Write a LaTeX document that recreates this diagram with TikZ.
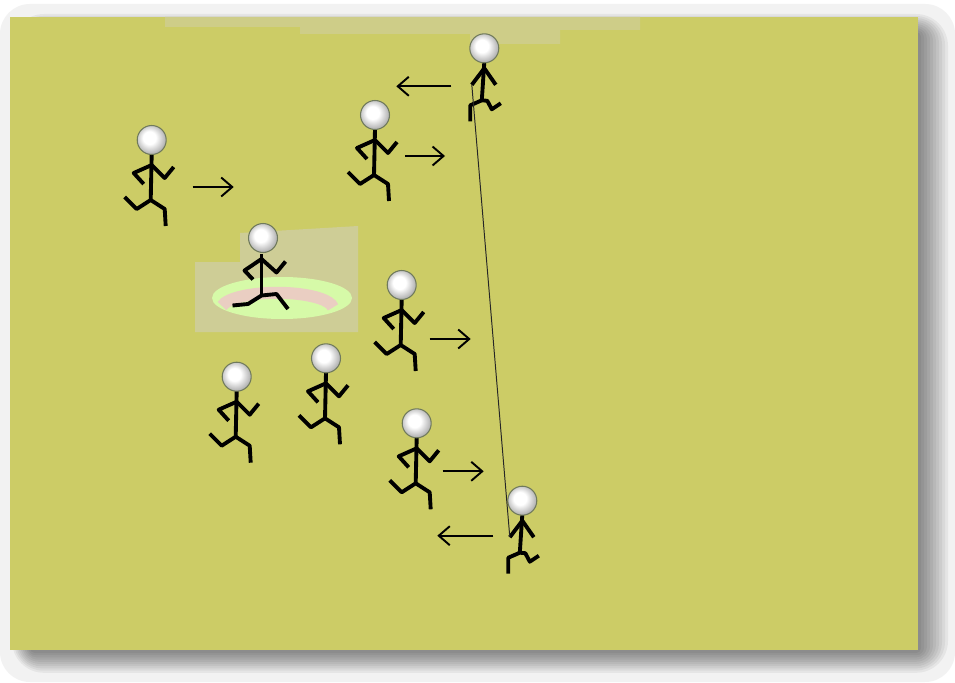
\documentclass[tikz,border=0pt]{standalone}
\usepackage{tikz}
\usetikzlibrary{arrows.meta}
\definecolor{field}{RGB}{204,204,102}
\definecolor{patch}{RGB}{206,205,150}
\definecolor{splash}{RGB}{214,250,168}
\definecolor{rim}{RGB}{234,206,194}
\definecolor{headline}{RGB}{112,122,92}
% 头部的明暗
\pgfdeclareradialshading{headball}{\pgfpoint{-5bp}{5bp}}{color(0bp)=(white); color(11bp)=(white); color(26bp)=(black!30); color(50bp)=(black!30)}
\tikzset{
    limb/.style={line width=2.2pt, line join=round}, % 躯干和四肢
    head/.style={circle, minimum size=0.58cm, inner sep=0pt, draw=headline, line width=0.6pt,
        shading=headball}, % 头
    move/.style={-{Straight Barb[length=2.2mm, width=3.8mm]}, line width=1.1pt}, % 跑动方向
    rope/.style={line width=0.55pt, black!85}, % 两人之间的线
    side runner/.pic={
        \draw[limb] (0,14) -- (-1,60);
        \draw[limb] (-8,44) -- (-18,33) -- (0,25) -- (13,38) -- (22,27);
        \draw[limb] (-27,57) -- (-15,69) -- (-1,60) -- (13,69) -- (14,86);
        \node[head] (-head) at (0,0) {};
    },
    front runner/.pic={
        \draw[limb] (0,14) -- (-2.5,52);
        \draw[limb] (-12.5,36.5) -- (0,20) -- (11.5,36.5);
        \draw[limb] (-14,73) -- (-14,57) -- (-2.5,52) -- (3,52.5) -- (7.5,61) -- (16.5,55);
        \coordinate (-hand) at (-12.5,36.5);
        \node[head] (-head) at (0,0) {};
    },
    leap runner/.pic={
        \draw[limb] (-1.5,16) -- (-1.5,57.5);
        \draw[limb] (-10,41.5) -- (-18.5,32.5) -- (-1.5,21) -- (13.5,34.5) -- (22.5,23.5);
        \draw[limb] (-30.5,67.5) -- (-15,66) -- (-1.5,57.5) -- (13.5,56) -- (25,71);
        \node[head] (-head) at (0,0) {};
    }
}

\begin{document}
\begin{tikzpicture}[x=0.02cm, y=-0.02cm]
    \def\fl{10} \def\fr{918} \def\ft{17} \def\fb{650} % 场地边界
    \useasboundingbox (0,0) rectangle (955,682);
    \fill[white] (0,0) rectangle (955,682);
    \fill[black!5, rounded corners=0.6cm] (0,4) rectangle (955,682);

    % 阴影，一层层叠出来
    \foreach \k in {0,...,9} {
        \pgfmathsetmacro\rc{1+0.6*\k}
        \fill[black, opacity=0.05, rounded corners=\rc mm] (30-2*\k,32-2*\k) rectangle (921+3*\k,653+2.2*\k);
    }

    \fill[field] (\fl,\ft) rectangle (\fr,\fb);

    % 场地上颜色浅一些的地方
    \fill[patch!70!field] (165,17) -- (640,17) -- (640,30) -- (560,30) -- (560,44) -- (470,44) -- (470,34)
        -- (300,34) -- (300,27) -- (165,27) -- cycle;
    \fill[patch] (240,233) -- (358,226) -- (358,332) -- (195,332) -- (195,262) -- (240,262) -- cycle;
    \fill[splash] (282,298) ellipse [x radius=70, y radius=21];
    \draw[rim, line width=2.4mm] (222,306) arc[start angle=190, end angle=355, x radius=56, y radius=16];

    % 队员
    \pic (r1) at (151.7,140) {side runner};
    \pic (r2) at (375,115) {side runner};
    \pic (r3) at (401.7,285) {side runner};
    \pic (r4) at (416.7,423.3) {side runner};
    \pic (r5) at (236.7,376.7) {side runner};
    \pic (r6) at (326,358.3) {side runner};
    \pic (lp) at (263,238) {leap runner};
    \pic (top) at (484.3,48.3) {front runner};
    \pic (bot) at (522.3,500.7) {front runner};

    \draw[rope] (top-hand) -- (bot-hand);

    \foreach \r/\dx/\dy/\len in {r1/41/47/41, r2/30/41/40, r3/28/54/41, r4/26/48/41, top/-33/38/-55, bot/-29/35/-56}
        \draw[move] ([shift={(\dx,\dy)}]\r-head.center) -- ++(\len,0);
\end{tikzpicture}
\end{document}
